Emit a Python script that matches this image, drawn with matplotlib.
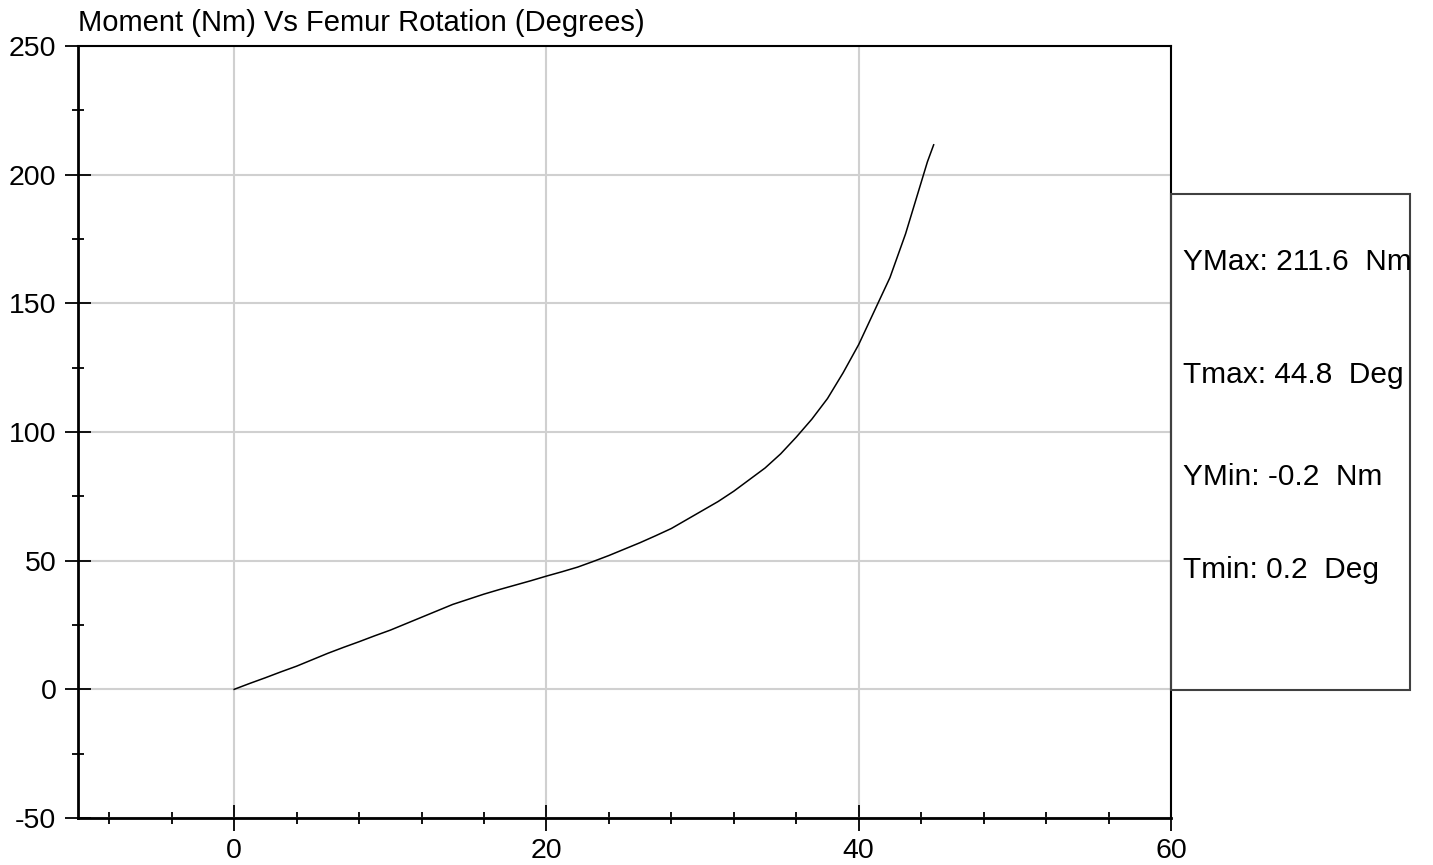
import matplotlib
matplotlib.use('Agg')
import matplotlib.pyplot as plt
from matplotlib.patches import Rectangle

plt.rcParams['font.family'] = ['Liberation Sans', 'DejaVu Sans']
plt.rcParams['axes.unicode_minus'] = False

# femur rotation (deg) vs moment (Nm)
rotation = [0, 1, 2, 3, 4, 5, 6, 7, 8, 9, 10, 11, 12, 13, 14, 15, 16, 17, 18, 19,
            20, 21, 22, 23, 24, 25, 26, 27, 28, 29, 30, 31, 32, 33, 34, 35, 36, 37,
            38, 39, 40, 41, 42, 43, 43.5, 44, 44.4, 44.8]
moment = [0, 2.3, 4.5, 6.8, 9, 11.5, 14, 16.3, 18.5, 20.8, 23, 25.5, 28, 30.5, 33,
          35, 37, 38.8, 40.5, 42.2, 44, 45.7, 47.5, 49.7, 52, 54.5, 57, 59.7, 62.5,
          66, 69.5, 73, 77, 81.5, 86, 91.5, 98, 105, 113, 123, 134, 147, 160, 177,
          187, 197, 205, 211.6]

x_major = [0, 20, 40, 60]
x_minor = [-8, -4, 4, 8, 12, 16, 24, 28, 32, 36, 44, 48, 52, 56]
y_major = [-50, 0, 50, 100, 150, 200, 250]
y_minor = [-25, 25, 75, 125, 175, 225]

stats_labels = ['YMax: 211.6  Nm', 'Tmax: 44.8  Deg', 'YMin: -0.2  Nm', 'Tmin: 0.2  Deg']

W, H = 1433, 865
fig = plt.figure(figsize=(W / 100, H / 100), dpi=100)
ax = fig.add_axes([78 / W, 1 - 818 / H, (1171 - 78) / W, (818 - 46) / H])

ax.plot(rotation, moment, color='black', lw=1.1, zorder=3)

ax.set_xlim(-10, 60)
ax.set_ylim(-50, 250)
ax.set_xticks(x_major)
ax.set_xticks(x_minor, minor=True)
ax.set_yticks(y_major)
ax.set_yticks(y_minor, minor=True)
ax.tick_params(which='major', direction='inout', length=19, width=1.3,
               labelsize=20.5, top=False, right=False)
ax.tick_params(axis='y', which='major', pad=6)
ax.tick_params(axis='x', which='major', pad=5)
ax.tick_params(which='minor', direction='inout', length=9, width=1.3,
               top=False, right=False)
ax.grid(True, which='major', color='#d0d0d0', lw=1.5, zorder=0)

for side in ['left', 'bottom']:
    ax.spines[side].set_linewidth(2)
for side in ['top', 'right']:
    ax.spines[side].set_linewidth(1.5)

fig.text(78 / W, 1 - 23 / H, 'Moment (Nm) Vs Femur Rotation (Degrees)',
         fontsize=21, ha='left', va='center')

# stats box to the right of the plot
box = Rectangle((1171 / W, 1 - 690 / H), (1410 - 1171) / W, (690 - 194) / H,
                transform=fig.transFigure, fill=False, edgecolor='#404040', lw=1.5)
fig.patches.append(box)
for lbl, ypix in zip(stats_labels, [262, 375, 477, 570]):
    fig.text(1183 / W, 1 - ypix / H, lbl, fontsize=21.5, ha='left', va='center')

fig.savefig('out.png', dpi=100, facecolor='white')
